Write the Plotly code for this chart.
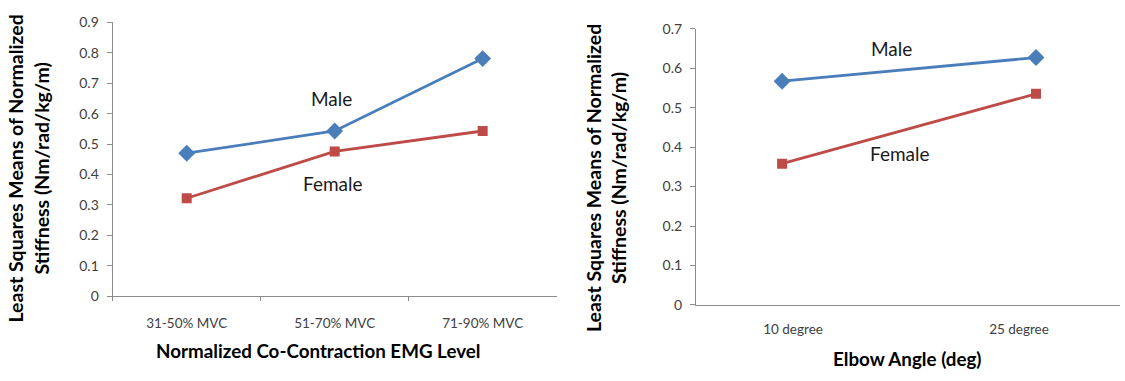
import plotly.graph_objects as go

# ---- data ----
emg_levels = ["31-50% MVC", "51-70% MVC", "71-90% MVC"]
emg_male = [0.47, 0.543, 0.781]
emg_female = [0.322, 0.476, 0.543]

angles = ["10 degree", "25 degree"]
angle_male = [0.567, 0.627]
angle_female = [0.358, 0.535]

y_ticks_left = [0, 0.1, 0.2, 0.3, 0.4, 0.5, 0.6, 0.7, 0.8, 0.9]
y_ticks_right = [0, 0.1, 0.2, 0.3, 0.4, 0.5, 0.6, 0.7]

BLUE = "#4A7EBB"
RED = "#BE4B48"
AXIS = "#8C8C8C"
TICKTXT = "#404040"
FONT = "Lato"

fig = go.Figure()

def add_series(x, y, color, symbol, size, xa, ya):
    fig.add_trace(go.Scatter(
        x=x, y=y, mode="lines+markers", xaxis=xa, yaxis=ya,
        line=dict(color=color, width=2.8),
        marker=dict(symbol=symbol, size=size, color=color),
        showlegend=False, hoverinfo="skip"))

add_series(emg_levels, emg_male, BLUE, "diamond", 13, "x", "y")
add_series(emg_levels, emg_female, RED, "square", 10, "x", "y")
idx = list(range(len(angles)))
add_series(idx, angle_male, BLUE, "diamond", 13, "x2", "y2")
add_series(idx, angle_female, RED, "square", 10, "x2", "y2")

tickfont = dict(family=FONT, size=13.5, color=TICKTXT)

fig.update_layout(
    width=1125, height=381,
    margin=dict(l=0, r=0, t=0, b=0),
    paper_bgcolor="white", plot_bgcolor="white",
    font=dict(family=FONT, color="#000000"),
    xaxis=dict(domain=[0.1002, 0.4948], type="category", range=[-0.5, 2.5],
               showline=True, linecolor=AXIS, linewidth=1.3,
               ticks="outside", tickson="boundaries", ticklen=4, tickcolor=AXIS,
               showgrid=False, zeroline=False, tickfont=tickfont,
               anchor="y", ticklabelstandoff=14),
    yaxis=dict(domain=[0.2108, 0.9633], range=[0, 0.9], tickvals=y_ticks_left,
               ticktext=[f"{v:g}" for v in y_ticks_left],
               showline=True, linecolor=AXIS, linewidth=1.3,
               ticks="outside", ticklen=5, tickcolor=AXIS,
               showgrid=False, zeroline=False, tickfont=dict(family=FONT, size=14, color=TICKTXT),
               anchor="x", ticklabelstandoff=5),
    xaxis2=dict(domain=[0.6187, 0.9956], range=[-0.339, 1.331],
                tickvals=[0.043, 0.933], ticktext=angles,
                showline=True, linecolor=AXIS, linewidth=1.3,
                ticks="", showgrid=False, zeroline=False, tickfont=tickfont,
                anchor="y2", ticklabelstandoff=12),
    yaxis2=dict(domain=[0.1871, 0.9457], range=[0, 0.7], tickvals=y_ticks_right,
                ticktext=[f"{v:g}" for v in y_ticks_right],
                showline=True, linecolor=AXIS, linewidth=1.3,
                ticks="outside", ticklen=5, tickcolor=AXIS,
                showgrid=False, zeroline=False, tickfont=dict(family=FONT, size=14, color=TICKTXT),
                anchor="x2", ticklabelstandoff=5),
)

lab = dict(family=FONT, size=19, color="#1a1a1a")
def label(x, y, xr, yr, t):
    fig.add_annotation(x=x, y=y, xref=xr, yref=yr, text=t, showarrow=False, font=lab,
                       xanchor="center", yanchor="middle")

label(0.98, 0.651, "x", "y", "Male")
label(0.99, 0.370, "x", "y", "Female")
label(0.429, 0.651, "x2", "y2", "Male")
label(0.465, 0.383, "x2", "y2", "Female")

ytitle_font = dict(family=FONT, size=19.5, color="#000000")
xtitle_font = dict(family=FONT, size=18.8, color="#000000")
ytitle = "<b>Least Squares Means of Normalized<br>Stiffness (Nm/rad/kg/m)</b>"

def ptext(px, py, t, f, angle=0):
    fig.add_annotation(x=px / 1125, y=1 - py / 381, xref="paper", yref="paper", text=t,
                       textangle=angle, showarrow=False, font=f, align="center",
                       xanchor="center", yanchor="middle")

ptext(28, 167, ytitle, ytitle_font, -90)
ptext(606, 177, ytitle, ytitle_font, -90)
ptext(318, 357, "<b>Normalized Co-Contraction EMG Level</b>", xtitle_font)
ptext(907, 366, "<b>Elbow Angle (deg)</b>", xtitle_font)

fig.write_html("out.html")
